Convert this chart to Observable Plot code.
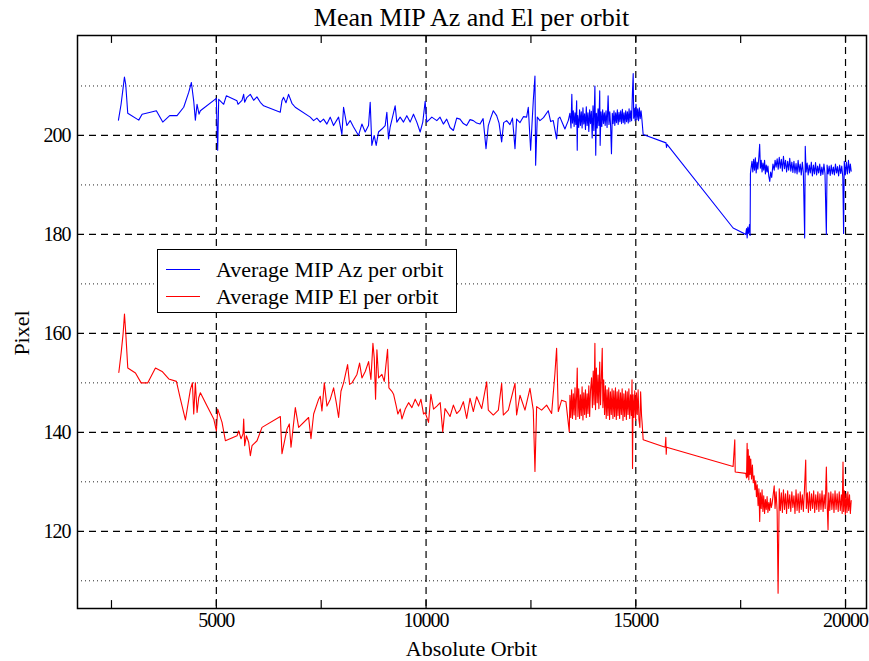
<!DOCTYPE html>
<html>
<head>
<meta charset="utf-8">
<script src="https://cdn.jsdelivr.net/npm/d3@7"></script>
<script src="https://cdn.jsdelivr.net/npm/@observablehq/plot@0.6"></script>
<style>
  html, body { margin: 0; padding: 0; background: #fff; }
  #wrap { position: relative; width: 869px; height: 661px; font-family: "Liberation Serif", "DejaVu Serif", serif; color: #000; }
  #title { position: absolute; left: 77px; width: 789px; top: 3px; text-align: center; font-size: 26px; line-height: 30px; }
  #ylab { position: absolute; left: 22px; top: 333px; transform: translate(-50%, -50%) rotate(-90deg); font-size: 22px; white-space: nowrap; }
  #xlab { position: absolute; left: 77px; width: 789px; top: 636px; text-align: center; font-size: 22px; line-height: 26px; }
  #legend { position: absolute; left: 157px; top: 249px; width: 298px; height: 62px; border: 1px solid #000; background: #fff; }
  .item { position: absolute; left: 0; height: 26px; width: 298px; }
  .swatch { position: absolute; left: 8px; top: 12px; width: 34px; height: 0; border-top: 1.2px solid; }
  .lt { position: absolute; left: 58px; top: 0; font-size: 22px; line-height: 26px; white-space: nowrap; }
  #chart { position: absolute; left: 0; top: 0; }
</style>
</head>
<body>
<div id="wrap">
  <div id="chart"></div>
  <div id="title">Mean MIP Az and El per orbit</div>
  <div id="ylab">Pixel</div>
  <div id="xlab">Absolute Orbit</div>
  <div id="legend">
    <div class="item" style="top:7px"><div class="swatch" style="border-color:#0000ff"></div><div class="lt">Average MIP Az per orbit</div></div>
    <div class="item" style="top:34px"><div class="swatch" style="border-color:#ff0000"></div><div class="lt">Average MIP El per orbit</div></div>
  </div>
</div>
<script>
// ---- Data ----
const xTickValues = [5000, 10000, 15000, 20000];
const xMinorTickValues = [2500, 7500, 12500, 17500];
const yTickValues = [120, 140, 160, 180, 200];
const yDottedGrid = [110, 130, 150, 170, 190, 210];
const xDomain = [1690, 20500];
const yDomain = [104.4, 220.2];

// Average MIP Az per orbit: [orbit, pixel]
const azSeries = [
[2666,203.1],[2729,206.3],[2809,211.8],[2840,210.3],[2888,204.5],[3150,203.1],[3230,204.3],[3428,204.7],[3570,205],[3722,202.7],
[3888,204],[4063,204],[4222,205.7],[4341,208.7],[4405,210.7],[4460,207],[4500,203.1],[4540,206.3],[4587,204.3],[4619,205],
[5000,207.5],[5016,201.7],[5032,197],[5056,207.3],[5175,206.3],[5238,208],[5492,207],[5516,206.3],[5611,207.1],[5651,208.3],
[5675,206.7],[5730,207.7],[5810,208.3],[5889,207.1],[5968,207.8],[6048,206.7],[6127,206],[6524,204.7],[6564,207],[6603,207.7],
[6660,206.6],[6722,208.3],[6802,206.5],[6881,205.7],[7239,203.7],[7318,203],[7397,203.5],[7477,202.7],[7556,203.3],[7636,202.3],
[7715,203.7],[7794,202],[7914,203.7],[7993,200.2],[8033,205.7],[8112,202],[8191,203],[8271,201.7],[8390,200],[8470,202.3],
[8549,200.7],[8628,202],[8668,206.7],[8707,198],[8763,200],[8811,198],[8866,200.7],[8946,201.3],[9025,202],[9065,204.7],
[9105,199.3],[9144,201.7],[9263,206],[9303,202.7],[9382,203.7],[9462,202.7],[9541,204],[9620,202.7],[9700,204.3],[9779,202.7],
[9859,200.7],[9922,202.7],[9978,206.9],[10017,202.7],[10137,203.7],[10256,203],[10333,203.7],[10412,202.3],[10492,203.3],[10571,201.6],
[10651,201],[10730,203.5],[10809,203.3],[10889,202.4],[10968,202],[11048,203.2],[11127,203],[11206,202.5],[11286,202.3],[11360,203.4],
[11429,197.3],[11484,202],[11540,203.5],[11603,205],[11683,204],[11740,202.5],[11802,198.7],[11850,202.6],[11921,203],[12000,202.2],
[12060,203.5],[12120,197.3],[12159,203.3],[12240,202.6],[12320,203.8],[12397,203.7],[12437,205.7],[12493,197],[12530,203],[12556,207],
[12596,212],[12612,194],[12651,203.7],[12715,203],[12800,203.6],[12913,205],[12970,202.8],[13032,203],[13112,199.3],[13150,203.4],
[13191,203.7],[13250,202.5],[13310,201.3],[13390,203],
[13430,204.5],[13455,201.5],[13475,208.3],[13490,202.5],[13510,205],[13530,201.8],[13550,204.6],[13570,202.2],[13590,207],[13604,197],
[13615,204],[13640,201.6],[13660,205.2],[13680,202],[13700,204.8],[13720,201.5],[13740,205.6],[13760,202.3],[13780,204.4],[13800,201.2],
[13820,205.8],[13840,202],[13860,204.6],[13880,200.8],[13900,205.2],[13920,202.4],[13940,204.9],[13960,199.5],[13980,206],[14000,201],
[14025,210],[14045,196],[14060,204.5],[14080,201.5],[14100,205.4],[14120,202],[14140,209],[14150,198],[14170,204.8],[14190,201.8],
[14210,205.2],[14230,202.4],[14250,204.6],[14270,202],[14290,205],[14315,201.6],[14340,208],[14360,202.2],[14380,204.8],[14400,201.8],
[14420,196.3],[14440,204.5],[14460,202.4],[14480,205],[14500,202],[14520,204.6],[14540,202.6],[14560,205.2],[14580,202.2],[14600,204.7],
[14620,202.8],[14640,205],[14660,202.4],[14680,205.3],[14700,202.6],[14720,204.6],[14740,202.3],[14760,205],[14780,202.8],[14800,204.8],
[14820,202.5],[14840,205.4],[14860,202.8],[14880,205],[14900,203],[14920,208.7],[14938,212.5],[14950,203.5],[14965,205.5],[14985,203],
[15005,206.3],[15025,203.2],[15045,205.4],[15065,203],[15085,205.6],[15105,203.4],[15125,205],[15140,203.8],[15176,200.2],[15720,198.5],
[15732,197.6],[15745,198.2],[17320,181.3],[17558,180.3],[17620,180],[17640,181.2],[17655,179.3],[17670,181.5],[17690,180.2],[17710,182],
[17725,179.8],[17733,192.3],[17750,193.5],[17770,194.8],[17790,192.6],[17810,195.2],[17830,193],[17850,195.5],[17870,192.4],[17890,194.6],
[17910,193.2],[17935,195.8],[17953,198.2],[17970,193.4],[17990,195],[18010,192.6],[18030,194.4],[18050,193],[18070,195],[18090,192.2],
[18110,194],[18130,192.6],[18150,193.8],[18170,191.8],[18194,190.7],[18215,192.6],[18240,191.5],[18270,194.2],[18300,193],[18320,195],
[18345,193.6],[18370,195.3],[18395,193.2],[18420,195.6],[18445,193.4],[18470,195.2],[18495,192.8],[18520,195.8],[18545,193.3],[18570,195],
[18595,192.6],[18620,194.8],[18645,193],[18670,195.4],[18695,192.8],[18720,194.6],[18745,192.5],[18770,194.8],[18795,192.4],[18820,194.3],
[18845,192.2],[18870,195],[18895,192.6],[18920,194.2],[18945,192],[18970,194.6],[18995,192.4],[19026,179.3],[19040,197.8],[19060,192.6],
[19085,194.4],[19110,192],[19135,194],[19160,192.4],[19185,194.6],[19210,191.8],[19235,194],[19260,192.2],[19285,194.5],[19310,192],
[19335,193.8],[19360,192.4],[19385,194.2],[19410,191.9],[19435,193.6],[19460,192.1],[19485,194.2],[19510,192.3],[19543,180],[19560,194],
[19585,192.2],[19610,193.8],[19635,191.9],[19660,194],[19685,192.2],[19710,193.6],[19735,192],[19760,194.2],[19785,192.4],[19810,193.7],
[19835,191.8],[19860,194],[19885,192.3],[19910,193.8],[19935,191.6],[19954,180.2],[19970,194.8],[19995,192],[20020,194.6],[20045,192.2],
[20070,195],[20095,192.4],[20115,194.2],[20135,192.8]
];

// Average MIP El per orbit: [orbit, pixel]
const elSeries = [
[2675,152.1],[2730,156],[2778,160],[2810,163.9],[2841,160],[2889,153],[3072,152],[3207,150],[3366,150],[3548,153],
[3707,152.3],[3866,150.8],[4048,150.3],[4144,146.7],[4263,142.5],[4382,148.7],[4429,150],[4461,143.7],[4500,150],[4541,144],
[4580,147],[4620,148],[4779,145.3],[4938,142.7],[5001,140.3],[5033,144.7],[5136,142],[5216,138.3],[5493,139.3],[5533,140.3],
[5589,138.7],[5636,139.7],[5652,142.7],[5676,137.3],[5716,139.3],[5771,138],[5811,135.3],[5851,137.3],[5970,138.3],[6089,141],
[6526,143.2],[6565,135.7],[6685,140.7],[6740,141.7],[6780,137],[6883,145],[6962,141],[7200,143],[7256,138.7],[7320,143.7],
[7439,146.7],[7478,147.3],[7518,144.3],[7574,150],[7637,145.3],[7717,146.7],[7796,149],[7859,146],[7915,143],[7971,148.3],
[8034,150],[8129,153.7],[8177,149.7],[8233,150],[8352,151.7],[8415,154],[8471,151],[8550,152.3],[8630,154.3],[8685,150.7],
[8733,158],[8765,155],[8796,146.7],[8828,156.7],[8868,151],[8947,151.7],[9003,150.3],[9082,156.8],[9114,149],[9185,148.3],
[9225,147.7],[9289,145.3],[9328,143.7],[9385,144.7],[9424,142.7],[9503,144.7],[9583,146],[9662,145],[9741,146.7],[9821,145.3],
[9877,146.7],[9940,143.7],[9980,144],[10059,142],[10115,147.7],[10178,144.7],[10258,145.3],[10337,146],[10397,140.1],[10452,144.8],
[10535,143.7],[10571,143.2],[10651,145.5],[10730,143.8],[10809,144.5],[10889,146.2],[10968,142.8],[11048,146.9],[11127,144.2],[11206,147.2],
[11326,144.8],[11445,150.2],[11484,144.5],[11603,143.5],[11723,144.5],[11802,149.9],[11842,143.5],[11961,144.5],[12120,149.9],[12159,143.5],
[12239,147.5],[12358,144.5],[12477,148.9],[12556,144.5],[12596,132.1],[12636,145.2],[12755,144.5],[12874,145.5],[12993,143.8],[13072,151.9],
[13112,157],[13152,144.2],[13231,146.5],[13334,146.2],[13414,140.1],
[13430,147.5],[13450,143],[13470,148.6],[13490,142.8],[13510,147.8],[13530,143.5],[13550,149],[13570,142.6],[13590,148.2],[13604,153],
[13620,143.2],[13640,148.8],[13660,142.8],[13680,147.6],[13700,143.4],[13720,149.2],[13740,142.5],[13760,148],[13780,143.6],[13800,148.6],
[13820,143],[13840,147.8],[13860,143.8],[13880,149.4],[13900,143.2],[13920,148.4],[13945,151],[13965,145],[13985,152.4],[14005,145.6],
[14025,158],[14040,144.6],[14060,153],[14080,146],[14100,151.6],[14120,144.8],[14140,154.2],[14160,145.6],[14180,151.2],[14200,157],
[14215,145],[14235,150.6],[14255,143.6],[14275,149.4],[14295,142.8],[14315,148.6],[14335,143.4],[14355,149],[14375,142.6],[14395,148.2],
[14415,143.6],[14435,148.8],[14455,142.8],[14475,148.4],[14495,143.2],[14515,149],[14535,142.6],[14555,148.2],[14575,143.4],[14595,148.6],
[14615,142.8],[14635,148],[14655,143.6],[14675,148.8],[14695,142.4],[14715,147.8],[14735,143.2],[14755,148.4],[14775,142.6],[14795,148.2],
[14815,143.6],[14835,148.8],[14855,142.8],[14875,147.6],[14895,143.4],[14910,150.6],[14922,132.7],[14935,147.6],[14955,143],[14975,148.4],
[14995,142.4],[15015,148],[15035,143.6],[15055,148.6],[15075,142.6],[15097,141],[15115,148.2],[15137,143.4],[15150,142],[15176,138.5],
[15700,137],[15716,139],[15725,135.6],[15735,137],[17320,133.1],[17360,138.5],[17370,132],[17622,131.7],[17640,130.8],[17654,137.8],
[17665,131],[17680,136.5],[17695,130.4],[17710,135.2],[17725,131.5],[17740,134.6],[17760,130.6],[17780,133.4],[17800,129.8],[17820,131.2],
[17840,128.4],[17860,130.2],[17876,127],[17895,129.4],[17915,125.2],[17935,128.6],[17954,122],[17970,127.8],[17990,124.6],[18010,128.4],
[18030,124],[18050,127.2],[18070,123.6],[18090,126.4],[18110,124.4],[18130,127],[18150,123.8],[18170,125.8],[18190,124.2],[18210,126.6],
[18230,124.8],[18250,125.6],[18270,127],[18300,129.2],[18320,124.6],[18345,128],[18370,124],[18392,107.5],[18405,116.9],[18420,128.6],
[18445,124.2],[18470,127.8],[18495,123.8],[18520,128.4],[18545,124.4],[18570,127.6],[18595,123.6],[18620,128.2],[18645,124.6],[18670,127.4],
[18695,124],[18720,128],[18745,124.8],[18770,127.2],[18795,123.6],[18820,128.4],[18845,124.2],[18870,127.6],[18895,123.8],[18920,128],
[18945,124.4],[18970,127.4],[18995,124],[19020,128.2],[19051,134.4],[19065,124.6],[19090,127.8],[19115,123.8],[19140,128],[19165,124.2],
[19190,127.6],[19215,124.6],[19240,128.2],[19265,123.8],[19290,127.4],[19315,124.4],[19340,128],[19365,124],[19390,127.6],[19415,124.4],
[19440,128.2],[19465,124],[19490,127.4],[19515,124.6],[19543,133],[19560,126],[19583,120.3],[19600,127.8],[19625,124.2],[19650,128],
[19675,124.4],[19700,127.6],[19725,123.8],[19750,128.2],[19775,124.4],[19800,127.6],[19825,124],[19850,128],[19875,124.2],[19900,127.4],
[19920,123.6],[19940,134],[19955,124],[19975,128.2],[19995,123.4],[20015,127.6],[20035,123.8],[20055,128],[20075,124.2],[20095,127.4],
[20115,123.6],[20135,126.2]
];

const tickLen = 1.6; // in y units for short inward ticks
const allXTicks = xMinorTickValues.concat(xTickValues);

const chart = Plot.plot({
  width: 869,
  height: 661,
  marginTop: 35,
  marginBottom: 53,
  marginLeft: 77,
  marginRight: 3,
  style: { fontFamily: "Liberation Serif, serif", fontSize: "20px", letterSpacing: "-1px", color: "#000", background: "transparent" },
  x: { domain: xDomain, ticks: xTickValues, tickFormat: d => String(d), tickSize: 0, tickPadding: 4, label: null },
  y: { domain: yDomain, ticks: yTickValues, tickFormat: d => String(d), tickSize: 0, tickPadding: 7, label: null },
  marks: [
    Plot.ruleY(yDottedGrid, { stroke: "#000", strokeWidth: 1, strokeDasharray: "1,3", strokeOpacity: 0.85 }),
    Plot.ruleY(yTickValues, { stroke: "#000", strokeWidth: 1.2, strokeDasharray: "7,5" }),
    Plot.ruleX(xTickValues, { stroke: "#000", strokeWidth: 1.2, strokeDasharray: "7,5" }),
    Plot.ruleX(allXTicks, { y1: yDomain[0], y2: yDomain[0] + tickLen, stroke: "#000", strokeWidth: 1.2 }),
    Plot.ruleX(allXTicks, { y1: yDomain[1] - tickLen, y2: yDomain[1], stroke: "#000", strokeWidth: 1.2 }),
    Plot.line(azSeries, { x: d => d[0], y: d => d[1], stroke: "#0000ff", strokeWidth: 1.1 }),
    Plot.line(elSeries, { x: d => d[0], y: d => d[1], stroke: "#ff0000", strokeWidth: 1.1 }),
    Plot.frame({ stroke: "#000", strokeWidth: 1.5 })
  ]
});
document.getElementById("chart").appendChild(chart);
</script>
</body>
</html>
